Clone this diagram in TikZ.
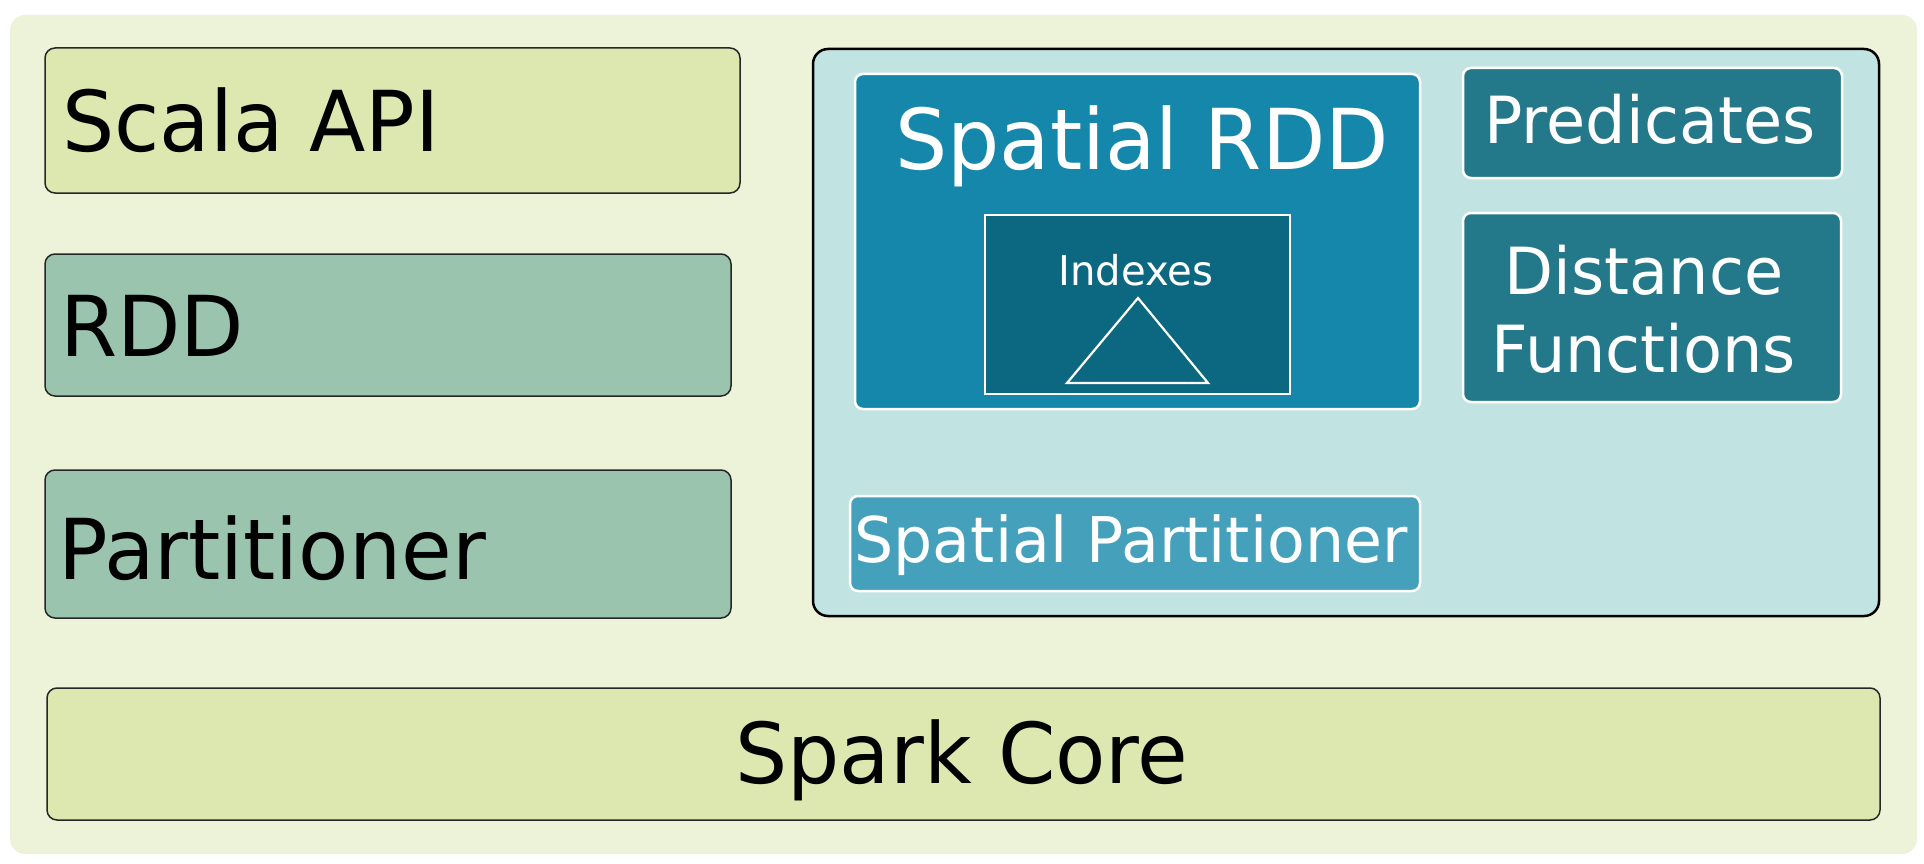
\documentclass[tikz,border=0pt]{standalone}
\usepackage{fontspec}
\setmainfont[FakeStretch=0.98]{DejaVu Sans}
\definecolor{bgc}{RGB}{237,243,216}
\definecolor{limec}{RGB}{221,231,176}
\definecolor{sagec}{RGB}{155,196,174}
\definecolor{paleteal}{RGB}{193,228,227}
\definecolor{srddc}{RGB}{21,135,171}
\definecolor{idxc}{RGB}{12,104,128}
\definecolor{predc}{RGB}{35,120,138}
\definecolor{sparc}{RGB}{68,160,187}
\tikzset{
  box/.style={rectangle, inner sep=0pt, outer sep=0pt},
  leftbox/.style={box, draw=black!85, line width=1.5pt, rounded corners=10pt},
  innerbox/.style={box, draw=white, line width=2.5pt, rounded corners=8pt},
  bigtxt/.style={inner sep=0pt, anchor=base, font=\fontsize{84}{100}\selectfont},
  midtxt/.style={inner sep=0pt, anchor=base, text=white, font=\fontsize{65}{80}\selectfont},
}
\begin{document}
\begin{tikzpicture}[x=1pt,y=-1pt]
\useasboundingbox (0,0) rectangle (1924,864);
% background
\node[box, fill=bgc, rounded corners=15pt, minimum width=1907pt, minimum height=839pt] (bg) at (963.5,434.5) {};
% left column
\node[leftbox, fill=limec, minimum width=695pt, minimum height=145pt] (scala) at (392.5,120.5) {};
\node[leftbox, fill=sagec, minimum width=686pt, minimum height=142pt] (rdd) at (388,325) {};
\node[leftbox, fill=sagec, minimum width=686pt, minimum height=148pt] (part) at (388,544) {};
\node[leftbox, fill=limec, minimum width=1833pt, minimum height=132pt] (core) at (963.5,754) {};
\node[bigtxt, anchor=base west] (scalat) at (62,151) {Scala API};
\node[bigtxt, anchor=base west] (rddt) at (60,356) {RDD};
\node[bigtxt, anchor=base west] (partt) at (58,579) {Partitioner};
\node[bigtxt] (coret) at (962,783) {Spark Core};
% right container
\node[box, fill=paleteal, draw=black, line width=2.5pt, rounded corners=15pt, minimum width=1066pt, minimum height=567pt] (right) at (1346,332.5) {};
\node[innerbox, fill=srddc, minimum width=565pt, minimum height=335pt] (srdd) at (1137.5,241.5) {};
\node[inner sep=0pt, anchor=base, text=white, font=\fontsize{84}{100}\selectfont] (srddt) at (1142,169) {Spatial RDD};
\node[box, fill=idxc, draw=white, line width=2pt, minimum width=305pt, minimum height=179pt] (idx) at (1137.5,304.5) {};
\node[inner sep=0pt, anchor=base, text=white, font=\fontsize{41}{49}\selectfont] (idxt) at (1136,285) {Indexes};
\coordinate (ta) at (1138,298);
\coordinate (tb) at (1067,383);
\coordinate (tc) at (1208,383);
\draw[white, line width=2.2pt, line join=miter] (ta) -- (tb) -- (tc) -- cycle;
\node[innerbox, fill=predc, minimum width=379pt, minimum height=110pt] (pred) at (1652.5,123) {};
\node[midtxt] (predt) at (1650,143) {Predicates};
\node[innerbox, fill=predc, minimum width=378pt, minimum height=189pt] (dist) at (1652,307.5) {};
\node[midtxt] (distt1) at (1644,294) {Distance};
\node[midtxt] (distt2) at (1644,372) {Functions};
\node[innerbox, fill=sparc, minimum width=570pt, minimum height=95pt] (spart) at (1135,543.5) {};
\node[midtxt, font=\fontsize{63}{78}\selectfont] (spartt) at (1131,562) {Spatial Partitioner};
\end{tikzpicture}
\end{document}
